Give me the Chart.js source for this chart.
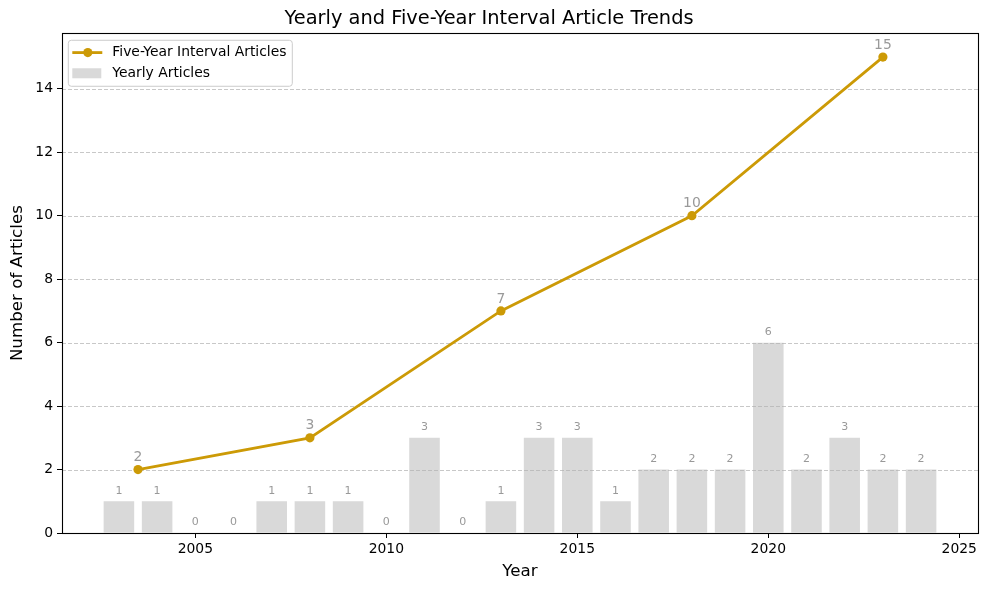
<!DOCTYPE html>
<html><head><meta charset="utf-8">
<script src="https://cdn.jsdelivr.net/npm/chart.js@4"></script>
<style>html,body{margin:0;padding:0;background:#fff}#wrap{width:988px;height:590px}</style>
</head><body><div id="wrap"><canvas id="c" width="988" height="590"></canvas></div>
<script>
const years = [2003,2004,2005,2006,2007,2008,2009,2010,2011,2012,2013,2014,2015,2016,2017,2018,2019,2020,2021,2022,2023,2024];
const yearlyArticles = [1,1,0,0,1,1,1,0,3,0,1,3,3,1,2,2,2,6,2,3,2,2];
const intervalX = [2003.5,2008,2013,2018,2023];
const intervalArticles = [2,3,7,10,15];
const xTickValues = [2005,2010,2015,2020,2025];
const yTickValues = [0,2,4,6,8,10,12,14];

const FONT = 'DejaVu Sans';
const GOLD = '#cc9a06';
const BARC = '#d9d9d9';
const LABELC = '#999999';

const gridPlugin = {
  id: 'gridBetween',
  afterDatasetDraw(chart, args) {
    if (args.index !== 0) return;
    const ctx = chart.ctx, a = chart.chartArea, ys = chart.scales.y;
    ctx.save();
    ctx.strokeStyle = 'rgba(176,176,176,0.7)';
    ctx.lineWidth = 1;
    ctx.setLineDash([4, 2]);
    yTickValues.forEach(v => {
      if (v === 0) return;
      const y = Math.round(ys.getPixelForValue(v)) + 0.5;
      ctx.beginPath(); ctx.moveTo(a.left, y); ctx.lineTo(a.right, y); ctx.stroke();
    });
    ctx.restore();
  }
};

const overlayPlugin = {
  id: 'overlay',
  afterDraw(chart) {
    const ctx = chart.ctx, a = chart.chartArea;
    ctx.save();
    ctx.strokeStyle = '#000'; ctx.lineWidth = 1.1; ctx.setLineDash([]);
    ctx.strokeRect(Math.round(a.left) + 0.5, Math.round(a.top) + 0.5, Math.round(a.right - a.left), Math.round(a.bottom - a.top));
    ctx.textAlign = 'center'; ctx.textBaseline = 'middle';
    ctx.fillStyle = LABELC;
    ctx.font = '11px "' + FONT + '"';
    chart.getDatasetMeta(0).data.forEach((el, i) => {
      ctx.fillText(String(yearlyArticles[i]), el.x, el.y - 10.5);
    });
    ctx.font = '13.9px "' + FONT + '"';
    chart.getDatasetMeta(1).data.forEach((el, i) => {
      ctx.fillText(String(intervalArticles[i]), el.x, el.y - 12);
    });
    const lx = a.left + 6.3, ly = a.top + 7, lw = 224, lh = 46, r = 3;
    ctx.beginPath();
    ctx.moveTo(lx + r, ly); ctx.lineTo(lx + lw - r, ly); ctx.arcTo(lx + lw, ly, lx + lw, ly + r, r);
    ctx.lineTo(lx + lw, ly + lh - r); ctx.arcTo(lx + lw, ly + lh, lx + lw - r, ly + lh, r);
    ctx.lineTo(lx + r, ly + lh); ctx.arcTo(lx, ly + lh, lx, ly + lh - r, r);
    ctx.lineTo(lx, ly + r); ctx.arcTo(lx, ly, lx + r, ly, r); ctx.closePath();
    ctx.fillStyle = 'rgba(255,255,255,0.8)'; ctx.fill();
    ctx.strokeStyle = '#cccccc'; ctx.lineWidth = 1; ctx.stroke();
    const r1 = ly + 12.3, r2 = ly + 33;
    ctx.strokeStyle = GOLD; ctx.lineWidth = 2.8;
    ctx.beginPath(); ctx.moveTo(lx + 4, r1); ctx.lineTo(lx + 34, r1); ctx.stroke();
    ctx.fillStyle = GOLD; ctx.beginPath(); ctx.arc(lx + 19.5, r1, 4.6, 0, Math.PI * 2); ctx.fill();
    ctx.fillStyle = BARC; ctx.fillRect(lx + 4, r2 - 5, 29, 10);
    ctx.fillStyle = '#000'; ctx.textAlign = 'left'; ctx.font = '13.9px "' + FONT + '"';
    ctx.fillText('Five-Year Interval Articles', lx + 44, r1);
    ctx.fillText('Yearly Articles', lx + 44, r2);
    ctx.restore();
  }
};

new Chart(document.getElementById('c'), {
  data: {
    datasets: [
      {
        type: 'bar', label: 'Yearly Articles',
        data: years.map((y, i) => ({ x: y, y: yearlyArticles[i] })),
        backgroundColor: BARC, borderWidth: 0,
        barPercentage: 0.8, categoryPercentage: 1.0, order: 1
      },
      {
        type: 'line', label: 'Five-Year Interval Articles',
        data: intervalX.map((x, i) => ({ x: x, y: intervalArticles[i] })),
        borderColor: GOLD, backgroundColor: GOLD, borderWidth: 2.8,
        pointRadius: 4.6, pointBorderWidth: 0, pointBackgroundColor: GOLD,
        tension: 0, fill: false, order: 0
      }
    ]
  },
  options: {
    responsive: false, animation: false, devicePixelRatio: 1,
    layout: { padding: { top: 0, right: 10, bottom: 0, left: 0 } },
    plugins: {
      legend: { display: false },
      tooltip: { enabled: false },
      title: {
        display: true, text: 'Yearly and Five-Year Interval Article Trends',
        color: '#000', font: { family: FONT, size: 19.4, weight: 'normal' },
        padding: { top: 7, bottom: 3 }
      }
    },
    scales: {
      x: {
        type: 'linear', min: 2001.51, max: 2025.49, offset: false,
        afterBuildTicks: s => { s.ticks = xTickValues.map(v => ({ value: v })); },
        afterFit: s => { s.height = 57; },
        ticks: { callback: v => String(v), color: '#000', font: { family: FONT, size: 13.9 }, padding: 3, maxRotation: 0, autoSkip: false },
        grid: { display: true, offset: false, drawOnChartArea: false, drawTicks: true, tickLength: 5, tickColor: '#000', color: '#000', tickWidth: 1 },
        border: { display: false },
        title: { display: true, text: 'Year', color: '#000', font: { family: FONT, size: 16.7 }, padding: { top: 0, bottom: 8 } }
      },
      y: {
        type: 'linear', min: 0, max: 15.75,
        afterBuildTicks: s => { s.ticks = yTickValues.map(v => ({ value: v })); },
        afterFit: s => { s.width = 62; },
        ticks: { callback: v => String(v), color: '#000', font: { family: FONT, size: 13.9 }, padding: 4, autoSkip: false },
        grid: { display: true, drawOnChartArea: false, drawTicks: true, tickLength: 5, tickColor: '#000', color: '#000', tickWidth: 1 },
        border: { display: false },
        title: { display: true, text: 'Number of Articles', color: '#000', font: { family: FONT, size: 16.7 }, padding: { top: 8, bottom: 0 } }
      }
    }
  },
  plugins: [gridPlugin, overlayPlugin]
});
</script>
</body></html>
